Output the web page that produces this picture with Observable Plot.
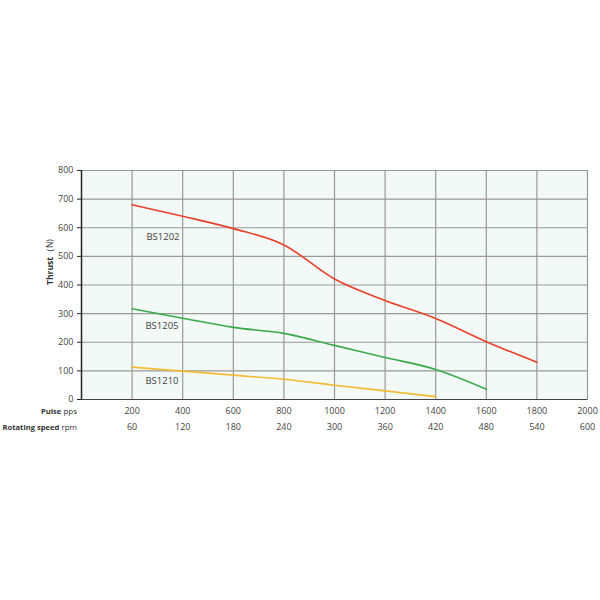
<!DOCTYPE html>
<html><head><meta charset="utf-8">
<script src="https://cdn.jsdelivr.net/npm/d3@7"></script>
<script src="https://cdn.jsdelivr.net/npm/@observablehq/plot@0.6"></script>
<style>body{margin:0;background:#fff;} #c{width:600px;height:600px;}</style>
</head><body><div id="c"></div>
<script>
const pulse = [200, 400, 600, 800, 1000, 1200, 1400, 1600, 1800];
const bs1202 = [680, 640, 597, 540, 421, 346, 283, 202, 130];
const bs1205 = [317, 284, 252, 231, 189, 147, 105, 36];
const bs1210 = [113, 99, 85, 71, 50, 30, 10];
const xTicks = [200, 400, 600, 800, 1000, 1200, 1400, 1600, 1800, 2000];
const rpmLabels = [60, 120, 180, 240, 300, 360, 420, 480, 540, 600];
const yTicks = [0, 100, 200, 300, 400, 500, 600, 700, 800];
const seriesNames = ["BS1202", "BS1205", "BS1210"];
const seriesColors = ["#e8412a", "#3aaa4a", "#f2bb35"];
const labelPos = [{x: 322, y: 568}, {x: 318, y: 256}, {x: 318, y: 66}];

const rows = [];
[bs1202, bs1205, bs1210].forEach((vals, i) => vals.forEach((v, j) => rows.push({s: seriesNames[i], x: pulse[j], y: v})));
const labels = seriesNames.map((s, i) => ({s, ...labelPos[i]}));
const rpm = xTicks.map((x, i) => ({x, t: String(rpmLabels[i])}));

const font = "'Open Sans', sans-serif";
const chart = Plot.plot({
  width: 600, height: 600,
  marginLeft: 81, marginRight: 13, marginTop: 170, marginBottom: 201,
  style: {fontFamily: font, fontSize: "9px", color: "#333", background: "#fff"},
  x: {domain: [0, 2000], axis: null},
  y: {domain: [0, 800], axis: null},
  color: {domain: seriesNames, range: seriesColors},
  marks: [
    Plot.frame({fill: "#f3f9f7", stroke: "#999", strokeWidth: 1}),
    Plot.ruleY(yTicks.filter(d => d > 0), {stroke: "#999", strokeWidth: 1.2}),
    Plot.ruleX(xTicks, {stroke: "#999", strokeWidth: 1.2}),
    Plot.ruleY([0], {stroke: "#444", strokeWidth: 1.2}),
    Plot.ruleX([0], {stroke: "#222", strokeWidth: 1.5}),
    Plot.axisY(yTicks, {tickSize: 4, tickPadding: 4, fontSize: 9, fill: "#444", stroke: "#222", label: null}),
    Plot.axisX(xTicks, {tickSize: 0, tickPadding: 8, fontSize: 9, fill: "#444", label: null, tickFormat: d => String(d)}),
    Plot.text(rpm, {x: "x", y: 0, text: "t", dy: 28, fontSize: 9, fill: "#444"}),
    Plot.line(rows, {x: "x", y: "y", z: "s", stroke: "s", strokeWidth: 1.6, curve: "monotone-x"}),
    Plot.text(labels, {x: "x", y: "y", text: "s", fontSize: 9.5, fill: "#444"})
  ]
});
document.getElementById("c").appendChild(chart);

// axis titles
const svg = d3.select(chart);
const yt = svg.append("text").attr("transform", "translate(53,262) rotate(-90)")
  .attr("text-anchor", "middle").attr("font-size", 8.5).attr("fill", "#333").attr("font-family", font);
yt.append("tspan").attr("font-weight", "bold").text("Thrust");
yt.append("tspan").text("（N)");
const t1 = svg.append("text").attr("x", 77).attr("y", 414).attr("text-anchor", "end").attr("font-size", 7.6).attr("fill", "#333").attr("font-family", font);
t1.append("tspan").attr("font-weight", "bold").text("Pulse");
t1.append("tspan").attr("font-size", 8).text(" pps");
const t2 = svg.append("text").attr("x", 77).attr("y", 430).attr("text-anchor", "end").attr("font-size", 7.6).attr("fill", "#333").attr("font-family", font);
t2.append("tspan").attr("font-weight", "bold").text("Rotating speed");
t2.append("tspan").attr("font-size", 8).text(" rpm");
</script>
</body></html>
